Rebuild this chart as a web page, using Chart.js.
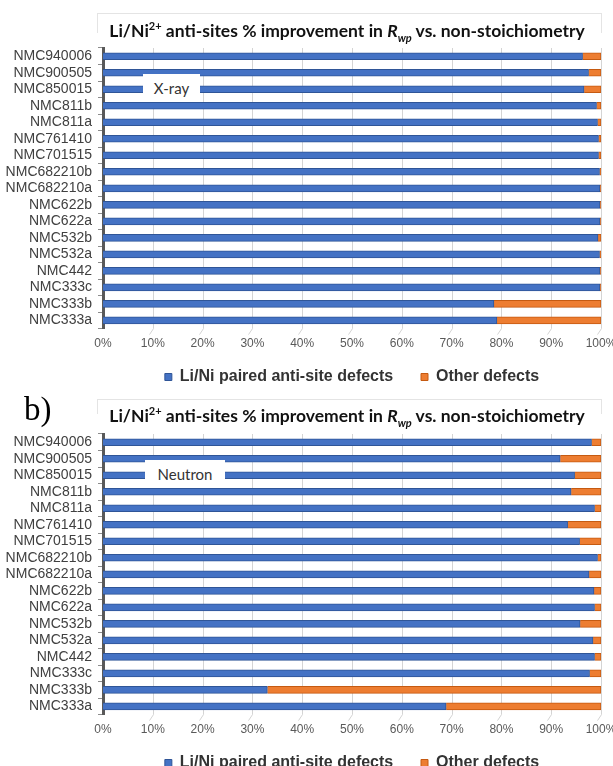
<!DOCTYPE html>
<html lang="en">
<head>
<meta charset="UTF-8">
<title>Li/Ni anti-sites % improvement in Rwp</title>
<script src="https://cdn.jsdelivr.net/npm/chart.js"></script>
<style>
    body {
        margin: 0;
        width: 613px;
        height: 766px;
        overflow: hidden;
        background: #fff;
        position: relative;
        font-family: "Liberation Sans", Arial, sans-serif;
    }
    /* canvas is a bit wider than the page so the 100% label can run off the edge */
    .panel { position: absolute; left: 0; width: 640px; height: 400px; }
    /* faint outline of the original chart box */
    .frame {
        position: absolute;
        left: 97px;
        width: 503px;
        height: 19px;
        border: 1px solid #e4e4e4;
        border-bottom: none;
    }
    .title {
        position: absolute;
        left: 100px;
        width: 494px;
        text-align: center;
        font-family: Lato, "Open Sans", sans-serif;
        font-weight: bold;
        font-size: 17.5px;
        line-height: 20px;
        white-space: nowrap;
        color: #111;
    }
    .title sup, .title sub { font-size: 11px; line-height: 0; }
    .tag {
        position: absolute;
        background: #fff;
        font-family: Lato, "Open Sans", sans-serif;
        font-size: 15px;
        color: #333;
        text-align: center;
        line-height: 28px;
        height: 28px;
    }
    .panel-letter {
        position: absolute;
        left: 24px;
        top: 392px;
        font-family: "Liberation Serif", "DejaVu Serif", serif;
        font-size: 33px;
        line-height: 34px;
        color: #000;
    }
</style>
</head>
<body>
    <div class="frame" style="top:13px"></div>
    <div class="frame" style="top:399px; height:14px"></div>

    <canvas id="xray" class="panel" width="640" height="400" style="top:0"></canvas>
    <canvas id="neutron" class="panel" width="640" height="400" style="top:386px"></canvas>

    <div class="title" style="top:21px">Li/Ni<sup>2+</sup> anti-sites % improvement in <i>R</i><sub><i>wp</i></sub> vs. non-stoichiometry</div>
    <div class="title" style="top:406px">Li/Ni<sup>2+</sup> anti-sites % improvement in <i>R</i><sub><i>wp</i></sub> vs. non-stoichiometry</div>

    <div class="tag" style="left:143px; top:74px; width:57px">X-ray</div>
    <div class="tag" style="left:145px; top:460px; width:80px">Neutron</div>
    <div class="panel-letter">b)</div>

<script>
    // 샘플 이름 (위에서 아래 순서)
    const samples = ['NMC940006', 'NMC900505', 'NMC850015', 'NMC811b', 'NMC811a', 'NMC761410',
        'NMC701515', 'NMC682210b', 'NMC682210a', 'NMC622b', 'NMC622a', 'NMC532b', 'NMC532a',
        'NMC442', 'NMC333c', 'NMC333b', 'NMC333a'];

    const seriesNames = ['Li/Ni paired anti-site defects', 'Other defects'];

    // X-ray 패널 (%)
    const xrayPaired = [96.3, 97.5, 96.6, 99.1, 99.3, 99.5, 99.5, 99.7, 99.8, 99.8, 99.8, 99.4, 99.7, 99.8, 99.8, 78.5, 79.1];
    const xrayOther  = [3.7, 2.5, 3.4, 0.9, 0.7, 0.5, 0.5, 0.3, 0.2, 0.2, 0.2, 0.6, 0.3, 0.2, 0.2, 21.5, 20.9];

    // Neutron 패널 (%)
    const neutronPaired = [98.1, 91.8, 94.7, 94.0, 98.7, 93.3, 95.7, 99.3, 97.6, 98.6, 98.7, 95.8, 98.4, 98.7, 97.7, 33.0, 68.9];
    const neutronOther  = [1.9, 8.2, 5.3, 6.0, 1.3, 6.7, 4.3, 0.7, 2.4, 1.4, 1.3, 4.2, 1.6, 1.3, 2.3, 67.0, 31.1];

    const blue = '#4472C4';
    const orange = '#ED7D31';

    // 세로 격자선 + 아래쪽 짧은 사선 (3D 바닥 느낌)
    const gridAndFloor = {
        id: 'gridAndFloor',
        beforeDatasetsDraw(chart) {
            const ctx = chart.ctx;
            const x = chart.scales.x;
            const y = chart.scales.y;
            const top = y.top;
            const bottom = y.bottom;
            ctx.save();
            ctx.strokeStyle = '#d4d4d4';
            ctx.lineWidth = 1;
            x.ticks.forEach(t => {
                if (t.value === 0) return;
                const px = Math.round(x.getPixelForValue(t.value)) + 0.5;
                ctx.beginPath();
                ctx.moveTo(px, top);
                ctx.lineTo(px, bottom);
                ctx.lineTo(px - 4, bottom + 6);
                ctx.stroke();
            });
            ctx.restore();
        }
    };

    // 범례 항목 사이 간격을 넓히기 위해 첫 항목 뒤에 공백 추가
    function legendItems(chart) {
        const items = Chart.defaults.plugins.legend.labels.generateLabels(chart);
        items[0].text += '    ';
        return items;
    }

    function makeChart(id, paired, other) {
        const ctx = document.getElementById(id).getContext('2d');
        return new Chart(ctx, {
            type: 'bar',
            data: {
                labels: samples,
                datasets: [
                    {
                        label: seriesNames[0],
                        data: paired,
                        backgroundColor: blue,
                        borderColor: '#2F5597',
                        borderWidth: 1,
                        barThickness: 7,
                    },
                    {
                        label: seriesNames[1],
                        data: other,
                        backgroundColor: orange,
                        borderColor: '#C55A11',
                        borderWidth: 1,
                        barThickness: 7,
                    },
                ],
            },
            options: {
                indexAxis: 'y',
                responsive: false,
                animation: false,
                layout: { padding: { top: 48, right: 39, bottom: 5, left: 0 } },
                scales: {
                    x: {
                        stacked: true,
                        min: 0,
                        max: 100,
                        ticks: {
                            stepSize: 10,
                            padding: 8,
                            color: '#595959',
                            font: { family: 'Liberation Sans', size: 12 },
                            callback: v => v + '%',
                        },
                        grid: { display: false, drawTicks: false },
                        border: { display: false },
                    },
                    y: {
                        stacked: true,
                        ticks: {
                            autoSkip: false,
                            padding: 6,
                            color: '#404040',
                            font: { family: 'Liberation Sans', size: 14 },
                        },
                        grid: { drawOnChartArea: false, drawTicks: true, tickLength: 5, color: '#8c8c8c' },
                        border: { display: true, color: '#595959', width: 3 },
                        afterFit: s => { s.width = 103; },
                    },
                },
                plugins: {
                    legend: {
                        position: 'bottom',
                        fullSize: false,
                        labels: {
                            boxWidth: 7,
                            boxHeight: 7,
                            padding: 10,
                            color: '#333',
                            font: { family: 'Liberation Sans', size: 16, weight: 'bold' },
                            generateLabels: legendItems,
                        },
                    },
                    tooltip: { enabled: false },
                },
            },
            plugins: [gridAndFloor],
        });
    }

    makeChart('xray', xrayPaired, xrayOther);
    makeChart('neutron', neutronPaired, neutronOther);
</script>
</body>
</html>
